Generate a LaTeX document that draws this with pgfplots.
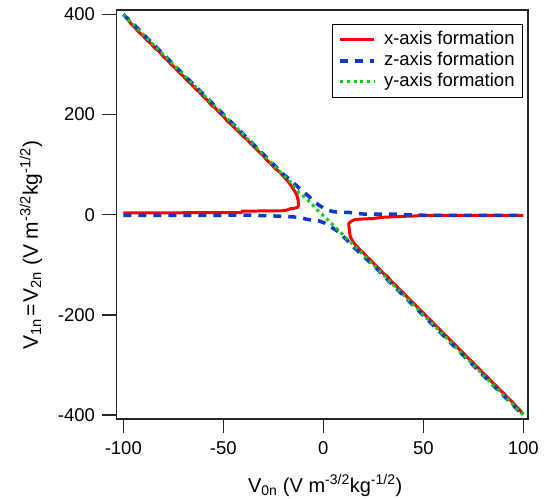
\documentclass[border=0pt]{standalone}
\usepackage{fontspec}
\setmainfont{Liberation Sans}
\usepackage{pgfplots}
\pgfplotsset{compat=1.18}
\definecolor{xred}{HTML}{FF0000}
\definecolor{zblue}{HTML}{0A3AD0}
\definecolor{ygreen}{HTML}{10CC10}
\newcommand{\tickfont}{\fontsize{18.5bp}{20bp}\selectfont}
\newcommand{\labfont}{\fontsize{20bp}{22bp}\selectfont}
\newcommand{\up}[1]{\textsuperscript{#1}}
\newcommand{\dn}[1]{\textsubscript{#1}}

\begin{document}
\begin{tikzpicture}
\begin{axis}[
  scale only axis,
  width=411.5bp, height=409bp,
  xmin=-103.4, xmax=102.35, ymin=-408, ymax=409,
  axis line style={line width=1.4bp, draw=black!85},
  tick style={line width=1.4bp, draw=black!85},
  tick align=outside, major tick length=14bp,
  xtick pos=bottom, ytick pos=left,
  xtick={-100,-50,0,50,100}, xticklabels={-100,-50,0,50,100},
  ytick={-400,-200,0,200,400}, yticklabels={-400,-200,0,200,400},
  minor tick num=0,
  /pgf/number format/assume math mode=true,
  tick label style={font=\tickfont},
  xticklabel style={yshift=-5bp},
  yticklabel style={xshift=-4bp},
  every axis x label/.style={at={(axis description cs:0.507,-0.1785)}, anchor=base},
  every axis y label/.style={at={(axis description cs:-0.1908,0.425)}, rotate=90, anchor=base},
  label style={font=\labfont},
  xlabel={V\dn{0n} (V m\up{-3/2}kg\up{-1/2})},
  ylabel={\fontsize{21bp}{23bp}\selectfont V\dn{1n}\hspace{2bp}=\hspace{2bp}V\dn{2n} (V m\up{-3/2}kg\up{-1/2})},
  legend style={draw=black, line width=1bp, fill=white,
    at={(0.988,0.966)}, anchor=north east,
    inner xsep=6bp, inner ysep=5bp, row sep=0pt, font=\tickfont,
    nodes={inner sep=2bp, text height=13bp, text depth=4bp},
    /tikz/every odd column/.append style={column sep=6bp}},
  legend cell align=left,
  legend image code/.code={\draw[#1] (0bp,0bp) -- (34bp,0bp);},
]
% x-axis formation
\addplot[xred, line width=3bp, line join=round, forget plot] coordinates {
(-100,400) (-98,391) (-96,381) (-94,373) (-92,364) (-90,357) (-88,348) (-86,341)
(-84,332) (-82,326) (-80,316) (-78,309) (-76,300) (-74,293) (-72,284) (-70,277)
(-68,268) (-66,261) (-64,252) (-62,245) (-60,236) (-58,229) (-56,219) (-54,213)
(-52,204) (-50,197) (-48,187) (-46,180) (-44,172) (-42,165) (-40,156) (-38,150)
(-36.5,143) (-34,133) (-32,125) (-30,118) (-28.2,109) (-26,101) (-24,92) (-22,86)
(-19.8,76) (-17.5,66) (-15.7,56) (-14.3,47) (-13.2,39) (-12.6,29) (-12.3,19)
(-12.8,15) (-14.5,13) (-16.5,12) (-18.5,9) (-20.7,8) (-25,7.6) (-30,7.6)
(-35,7.4) (-40.5,7.4) (-41,4.2) (-50,4) (-60,4) (-70,4) (-80,3.8) (-90,3.8) (-100,3.8)};
\addplot[xred, line width=3bp, line join=round] coordinates {
(100,-1.2) (90,-1.2) (80,-1.2) (70,-1.2) (60,-1.4) (49.2,-1.4) (46,-2.4) (42.5,-2.8)
(36,-4) (29.2,-5.2) (25,-7.4) (19.2,-8.6) (15.8,-9.4) (14.2,-12.6) (12.7,-17.2)
(13,-30) (13.5,-44) (15,-55) (16.5,-62) (18.5,-71) (20,-76) (22,-85) (24,-92)
(26,-101) (28,-108) (30,-117) (32,-123) (34,-133) (36,-140) (38,-149) (40,-156)
(42,-165) (43.5,-171) (46,-180) (48,-189) (50,-196) (52,-205) (54,-212) (56,-221)
(58,-228) (60,-237) (62,-244) (64,-253) (66,-260) (68,-269) (70,-276) (72,-285)
(74,-292) (76,-301) (78,-308) (80,-317) (82,-324) (84,-333) (86,-340) (88,-349)
(90,-356) (92,-365) (94,-372) (96,-381) (98,-389) (100,-399)};
\addlegendentry{x-axis formation}
% z-axis formation
\addplot[zblue, line width=3.5bp, dash pattern=on 8bp off 7bp, forget plot] coordinates {
(-100,400) (-96,385) (-92,369) (-88,353) (-84,337) (-80,321) (-76,305) (-72,289)
(-68,273) (-64,257) (-60,241) (-56,225) (-52,209) (-48,193) (-44,177) (-40,161)
(-36,145) (-32,129) (-28,113) (-24,97) (-20,81) (-16.5,69.4) (-12,53) (-9.8,46)
(-6,32) (-2.3,19.4) (1,11) (5.2,6) (8,5) (12.7,4.8) (16,3) (20.2,1.4) (28,1.4)
(35,1.4) (42,0) (50,-1) (60,-1.2) (80,-1.2) (100,-1.2)};
\addplot[zblue, line width=3.5bp, dash pattern=on 8bp off 7bp] coordinates {
(-100,-1.2) (-60,-1.2) (-36.5,-0.8) (-30,-1.8) (-23.2,-2.6) (-14.8,-4.4) (-11,-6)
(-8.2,-9.2) (-5,-11) (-2,-12.4) (1,-17) (4.3,-25.4) (6.8,-32) (9,-40) (11.8,-50.6)
(15,-64) (19.3,-80) (22,-90) (25,-101) (28,-113) (32,-129) (36,-145) (40,-161)
(44,-177) (48,-193) (52,-209) (56,-225) (60,-241) (64,-257) (68,-273) (72,-289)
(76,-305) (80,-321) (84,-337) (88,-353) (92,-369) (96,-385) (100,-401)};
\addlegendentry{z-axis formation}
% y-axis formation
\addplot[ygreen, line width=3bp, dash pattern=on 3bp off 3.7bp] coordinates {
(-100,400) (-95,380) (-90,360) (-85,340) (-80,320) (-75,300) (-70,280) (-65,260)
(-60,240) (-55,220) (-50,200) (-45,180) (-40,160) (-35,140) (-30,120) (-25,100)
(-20.7,82) (-16,64) (-12.3,45) (-9,34) (-6.2,23.5) (-3.2,10) (-0.7,1) (2.2,-10)
(5,-21) (8.2,-33) (11,-45) (15,-60) (20,-80) (25,-100) (30,-120) (35,-140)
(40,-160) (45,-180) (50,-200) (55,-220) (60,-240) (65,-260) (70,-280) (75,-300)
(80,-320) (85,-340) (90,-360) (95,-380) (100,-400)};
\addlegendentry{y-axis formation}
\end{axis}
\pgfresetboundingbox
\useasboundingbox (-116.5bp,-80bp) rectangle (427.5bp,419bp);
\end{tikzpicture}
\end{document}
